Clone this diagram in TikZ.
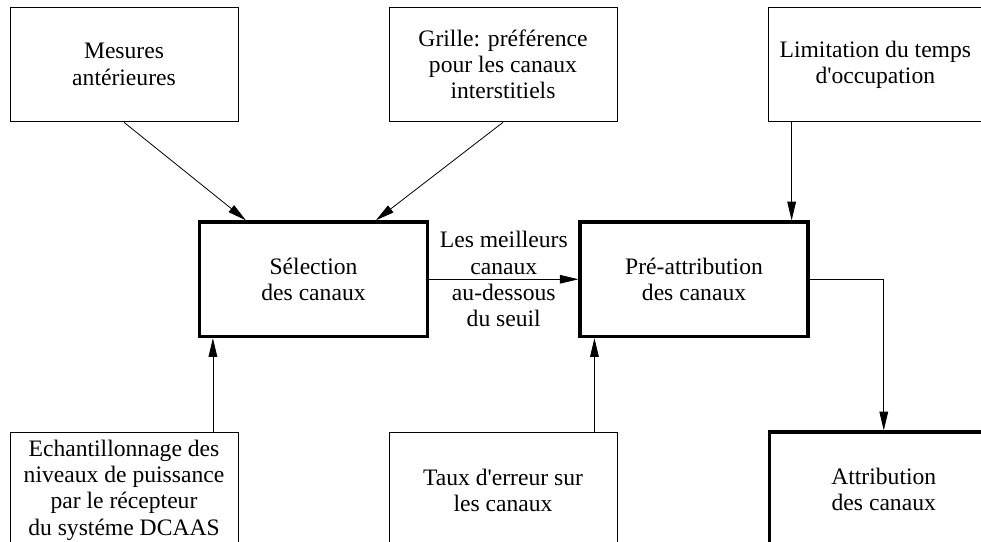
\documentclass[tikz,border=0pt]{standalone}
\usepackage{fontspec}
\setmainfont{Liberation Serif}
\usetikzlibrary{arrows.meta,positioning,calc}

\begin{document}
\begin{tikzpicture}[
  x=0.75pt, y=-0.75pt,
  every node/.style={font=\fontsize{17.7}{19.7}\selectfont},
  inbox/.style={draw, line width=0.75pt, minimum width=171pt, minimum height=86pt, align=center, inner sep=2pt},
  mainbox/.style={inbox, line width=2.4pt},
  arrow/.style={-{Triangle[length=14pt,width=6.5pt]}, line width=0.6pt}
]
\useasboundingbox (0,0) rectangle (981,542);

% ---------- Inputs (top row) ----------
\node[inbox] (mes) at (124,64.5) {Mesures\\antérieures};
\node[inbox, right=112.5pt of mes] (grille) {Grille: préférence\\pour les canaux\\interstitiels};
\node[inbox, right=113pt of grille, minimum width=160pt] (limit) {Limitation du temps\\d\textquotesingle{}occupation};

% ---------- Processing (middle row) ----------
\coordinate (c1) at ($(mes.south)!0.5!(grille.south)$);
\node[mainbox, below=73.5pt of c1] (sel) {Sélection\\des canaux};
\node[mainbox, right=112pt of sel] (pre) {Pré-attribution\\des canaux};

% ---------- Bottom row ----------
\node[inbox, below=232.5pt of mes] (ech) {Echantillonnage des\\niveaux de puissance\\par le récepteur\\du systéme DCAAS};
\node[inbox, below=232.5pt of grille] (taux) {Taux d\textquotesingle{}erreur sur\\les canaux};
\node[mainbox, below=231pt of limit.south west, anchor=north west] (attr) {Attribution\\des canaux};

% ---------- Edges ----------
\draw[arrow] (mes.south) -- ([xshift=36pt]sel.north west);
\draw[arrow] (grille.south) -- ([xshift=133.5pt]sel.north west);
\draw[arrow] (sel) -- node[align=center] {Les meilleurs\\canaux\\au-dessous\\du seuil} (pre);
% feedback from below
\coordinate (s1) at ([xshift=11.25pt]sel.south west);
\draw[arrow] (ech.north -| s1) -- (s1);
\coordinate (p1) at ([xshift=12pt]pre.south west);
\draw[arrow] (taux.north -| p1) -- (p1);
% occupation limit
\coordinate (p2) at ([xshift=-13.5pt]pre.north east);
\draw[arrow] (limit.south -| p2) -- (p2);
% to final attribution
\draw[arrow] (pre.east) -| (attr.north);
\end{tikzpicture}
\end{document}
